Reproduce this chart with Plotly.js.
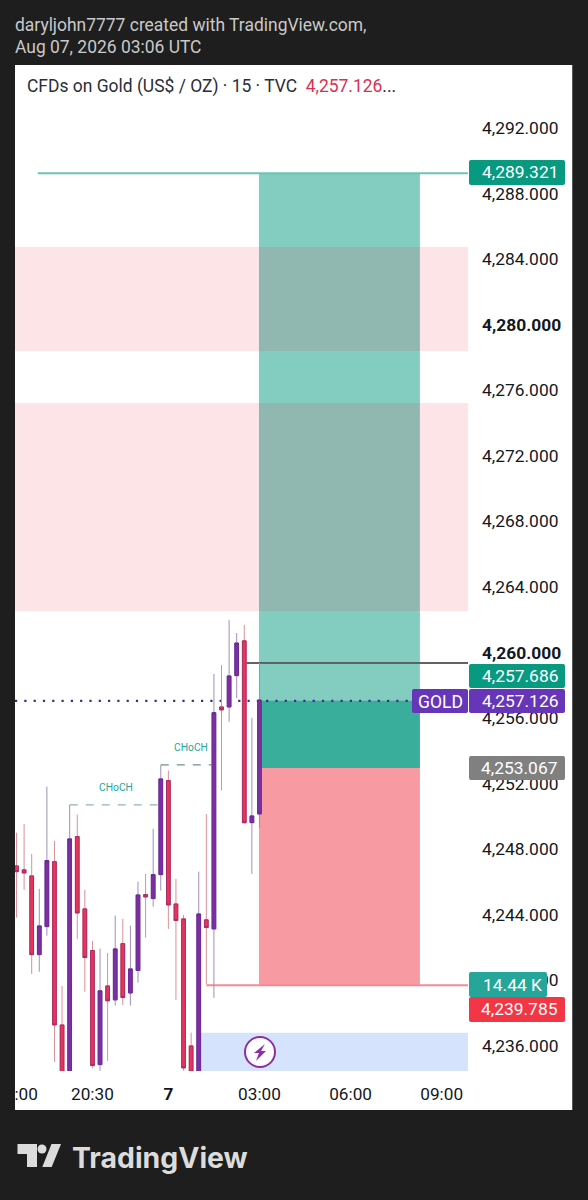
<!DOCTYPE html>
<html><head><meta charset="utf-8">
<script src="https://cdn.plot.ly/plotly-3.0.1.min.js"></script>
<style>html,body{margin:0;padding:0;background:#1e1e1e}</style></head>
<body><div id="chart" style="width:588px;height:1200px"></div>
<script>
const times=['2026-08-06 18:00','2026-08-06 18:15','2026-08-06 18:30','2026-08-06 18:45','2026-08-06 19:00','2026-08-06 19:15','2026-08-06 19:30','2026-08-06 19:45','2026-08-06 20:00','2026-08-06 20:15','2026-08-06 20:30','2026-08-06 20:45','2026-08-06 22:00','2026-08-06 22:15','2026-08-06 22:30','2026-08-06 22:45','2026-08-06 23:00','2026-08-06 23:15','2026-08-06 23:30','2026-08-06 23:45','2026-08-07 00:00','2026-08-07 00:15','2026-08-07 00:30','2026-08-07 00:45','2026-08-07 01:00','2026-08-07 01:15','2026-08-07 01:30','2026-08-07 01:45','2026-08-07 02:00','2026-08-07 02:15','2026-08-07 02:30','2026-08-07 02:45','2026-08-07 03:00'];
const opens=[4246.98,4246.74,4246.37,4241.57,4243.28,4247.24,4237.28,4233.32,4248.77,4244.36,4241.82,4234.86,4239.66,4238.81,4242.24,4239.23,4240.60,4245.23,4244.99,4246.45,4252.19,4244.66,4243.75,4236.00,4233.30,4243.69,4243.14,4256.68,4256.68,4258.59,4260.71,4249.62,4250.15];
const closes=[4246.63,4246.55,4241.57,4243.32,4247.31,4237.28,4233.32,4248.63,4244.11,4241.39,4234.80,4239.36,4238.75,4241.92,4238.95,4240.70,4245.21,4245.09,4246.45,4252.29,4244.60,4243.65,4234.66,4234.40,4244.05,4243.22,4256.33,4256.50,4258.57,4260.58,4249.62,4250.03,4257.10];
const highs=[4249.01,4249.54,4247.71,4245.58,4251.82,4248.51,4239.66,4250.70,4250.11,4245.52,4242.41,4241.94,4241.67,4243.95,4243.75,4243.34,4246.02,4246.49,4249.24,4253.14,4252.80,4246.19,4243.99,4236.81,4246.63,4250.15,4258.69,4259.24,4261.99,4261.19,4261.68,4256.01,4259.36];
const lows=[4243.83,4245.52,4240.39,4240.52,4242.73,4235.03,4232.71,4232.80,4242.53,4239.31,4234.66,4234.48,4235.09,4238.46,4238.50,4238.46,4239.86,4242.61,4244.50,4245.48,4243.14,4238.81,4234.48,4233.00,4233.00,4239.78,4238.93,4251.58,4255.78,4257.23,4249.54,4246.49,4249.32];
const priceTicks=[4292,4288,4284,4280,4276,4272,4268,4264,4260,4256,4252,4248,4244,4240,4236];
const boldPrices=[4280,4260];
const timeTickVals=['2026-08-06 18:00','2026-08-06 20:30','2026-08-07 00:00','2026-08-07 03:00','2026-08-07 06:00','2026-08-07 09:00'];
const timeTickText=['18:00','20:30','<b>7</b>','03:00','06:00','09:00'];
const xStart='2026-08-06 17:57',xEnd='2026-08-07 09:52';
const yBottom=4234.47,yTop=4295.84;
// labels as printed on the chart, and the levels
const tagTP='4,289.321',tagBid='4,257.686',tagLast='4,257.126',tagEntry='4,253.067',tagSL='4,239.785',tagVol='14.44 K',headerPrice='4,257.126';
const takeProfit=4289.24,stopLoss=4239.70,entry=4252.96,last=4257.05,pivot=4259.36;

const L=15,R=468,T=65,B=1071;
const px=x=>(x-L)/(R-L), py=y=>1-(y-T)/(B-T);
const P=(pts)=>'M'+pts.map(p=>px(p[0]).toFixed(5)+','+py(p[1]).toFixed(5)).join(' L')+' Z';
function pRect(x0,y0,x1,y1,color,layer){return {type:'rect',xref:'paper',yref:'paper',x0:px(x0),x1:px(x1),y0:py(y0),y1:py(y1),fillcolor:color,line:{width:0},layer:layer||'above'};}
function tag(x0,y0,x1,y1,color){const r=2;return {type:'path',xref:'paper',yref:'paper',layer:'above',fillcolor:color,line:{width:0},
 path:`M${px(x0+r)},${py(y0)} L${px(x1-r)},${py(y0)} Q${px(x1)},${py(y0)} ${px(x1)},${py(y0+r)} L${px(x1)},${py(y1-r)} Q${px(x1)},${py(y1)} ${px(x1-r)},${py(y1)} L${px(x0+r)},${py(y1)} Q${px(x0)},${py(y1)} ${px(x0)},${py(y1-r)} L${px(x0)},${py(y0+r)} Q${px(x0)},${py(y0)} ${px(x0+r)},${py(y0)} Z`};}
function dRect(x0,x1,y0,y1,color){return {type:'rect',xref:'x',yref:'y',x0,x1,y0,y1,fillcolor:color,line:{width:0},layer:'below'};}
function dLine(x0,x1,y0,y1,color,width,dash){return {type:'line',xref:'x',yref:'y',x0,x1,y0,y1,line:{color,width,dash:dash||'solid'},layer:'below'};}
const boxEnd='2026-08-07 08:17',box0='2026-08-07 02:59';
const shapes=[
 pRect(15,65,572.5,1110,'#ffffff','below'),
 dRect(box0,boxEnd,entry,takeProfit,'rgba(8,153,129,0.5)'),
 dRect(box0,boxEnd,stopLoss,entry,'rgba(242,54,69,0.5)'),
 dRect(box0,boxEnd,entry,last,'rgba(8,153,129,0.6)'),
 dRect(xStart,xEnd,4278.39,4284.74,'rgba(242,54,69,0.13)'),
 dRect(xStart,xEnd,4262.53,4275.22,'rgba(242,54,69,0.13)'),
 dRect('2026-08-07 01:00',xEnd,yBottom,4236.8,'#d6e3fc'),
 dLine('2026-08-06 18:42',xEnd,takeProfit,takeProfit,'#6cc4b4',2),
 dLine('2026-08-07 02:30',xEnd,pivot,pivot,'#5f6368',2),
 dLine('2026-08-07 01:15',xEnd,stopLoss,stopLoss,'#f58a96',2),
 dLine(xStart,xEnd,last,last,'#3f2a96',2.2,'2.2px,7.1px'),
 dLine('2026-08-06 19:45','2026-08-06 23:45',4250.70,4250.70,'#8fb5ad',1.2,'8px,8px'),
 dLine('2026-08-06 23:45','2026-08-07 01:30',4253.14,4253.14,'#6f938c',1.2,'8px,8px'),
 {type:'circle',xref:'paper',yref:'paper',x0:px(245),x1:px(275),y0:py(1037),y1:py(1067),fillcolor:'#ffffff',line:{color:'#8c2fa5',width:2},layer:'above'},
 {type:'path',xref:'paper',yref:'paper',layer:'above',fillcolor:'#8c2fa5',line:{width:0},path:P([[265,1044],[254,1053],[259,1053],[256,1061],[266,1051],[261,1051]])},
 tag(469,160,565,185,'#089981'),
 tag(469,664,565,688,'#089981'),
 tag(469,689,565,713,'#6736b8'),
 tag(412,689,468,713,'#6736b8'),
 tag(469,756,565,780,'#808080'),
 tag(469,972,547,997,'#26a69a'),
 tag(469,997,565,1022,'#f23645'),
 pRect(0,0,15,1200,'#1e1e1e'),
 pRect(572.5,0,588,1200,'#1e1e1e'),
 pRect(0,1110,588,1200,'#1e1e1e'),
 {type:'path',xref:'paper',yref:'paper',layer:'above',fillcolor:'#dcdcdc',line:{width:0},path:P([[17.5,1144],[37,1144],[37,1167],[27,1167],[27,1154],[17.5,1154]])},
 {type:'path',xref:'paper',yref:'paper',layer:'above',fillcolor:'#dcdcdc',line:{width:0},path:P([[51.5,1144],[61,1144],[51.7,1167],[42.3,1167]])},
 {type:'circle',xref:'paper',yref:'paper',layer:'above',fillcolor:'#dcdcdc',line:{width:0},x0:px(37.5),x1:px(46.5),y0:py(1144.5),y1:py(1153.5)}
];
const F='Roboto, sans-serif';
function txt(x,y,text,size,color,anchor,extra){return Object.assign({xref:'paper',yref:'paper',x:px(x),y:py(y),text,showarrow:false,xanchor:anchor||'left',yanchor:'middle',font:{family:F,size,color},borderpad:0,borderwidth:0,captureevents:false},extra||{});}
const fmt=v=>v.toLocaleString('en-US',{minimumFractionDigits:3,maximumFractionDigits:3});
const annotations=[
 txt(15,25,'daryljohn7777 created with TradingView.com,',17.45,'#c9c9c9'),
 txt(15,47.5,'Aug 07, 2026 03:06 UTC',17.45,'#c9c9c9'),
 txt(27,87,'CFDs on Gold (US$ / OZ) · 15 · TVC&nbsp;&nbsp;<span style="color:#d9304f">'+headerPrice+'</span>...',17.45,'#2a2e39'),
 txt(558,172,tagTP,17.4,'#ffffff','right'),
 txt(558,676,tagBid,17.4,'#ffffff','right'),
 txt(558,701,tagLast,17.4,'#ffffff','right'),
 txt(440,702,'GOLD',17.5,'#ffffff','center'),
 txt(558,768,tagEntry,17.4,'#ffffff','right'),
 txt(512,985,tagVol,17.4,'#ffffff','center'),
 txt(558,1009,tagSL,17.4,'#ffffff','right'),
 {xref:'x',yref:'y',x:'2026-08-06 22:17',y:4251.78,text:'CHoCH',showarrow:false,font:{family:F,size:10.3,color:'#26a69a'}},
 {xref:'x',yref:'y',x:'2026-08-07 00:45',y:4254.2,text:'CHoCH',showarrow:false,font:{family:F,size:10.3,color:'#26a69a'}},
 {xref:'paper',yref:'paper',x:px(70),y:py(1157),text:'<b>TradingView</b>',showarrow:false,xanchor:'left',yanchor:'middle',font:{family:'Inter, sans-serif',size:28.4,color:'#dcdcdc'}}
];
const bodyTop=opens.map((o,i)=>Math.max(o,closes[i])), bodyBot=opens.map((o,i)=>Math.min(o,closes[i]));
const W=15*60000*0.7;
const traces=[
 {type:'candlestick',x:times,open:opens,high:highs,low:lows,close:closes,width:W,hoverinfo:'skip',showlegend:false,
  increasing:{line:{color:'#a08fb8',width:1},fillcolor:'#7b2fa0'},decreasing:{line:{color:'#dc8f98',width:1},fillcolor:'#e8335a'}},
 {type:'candlestick',x:times,open:opens,high:bodyTop,low:bodyBot,close:closes,width:W,hoverinfo:'skip',showlegend:false,
  increasing:{line:{color:'#6d2a98',width:1},fillcolor:'#7b2fa0'},decreasing:{line:{color:'#a92c66',width:1},fillcolor:'#e8335a'}}
];
const layout={width:588,height:1200,margin:{l:L,r:588-R,t:T,b:1200-B},paper_bgcolor:'#1e1e1e',plot_bgcolor:'rgba(0,0,0,0)',showlegend:false,hovermode:false,
 xaxis:{type:'date',range:[xStart,xEnd],rangeslider:{visible:false},rangebreaks:[{pattern:'hour',bounds:[21,22]}],tickmode:'array',tickvals:timeTickVals,ticktext:timeTickText,ticks:'',showgrid:false,zeroline:false,showline:false,tickangle:0,ticklabelstandoff:11,ticklabeloverflow:'allow',tickfont:{family:F,size:17.2,color:'#131722'}},
 yaxis:{side:'right',range:[yBottom,yTop],tickmode:'array',tickvals:priceTicks,ticktext:priceTicks.map(v=>boldPrices.includes(v)?'<b>'+fmt(v)+'</b>':fmt(v)),ticks:'',showgrid:false,zeroline:false,showline:false,ticklabelstandoff:13,tickfont:{family:F,size:17.4,color:'#131722'}},
 shapes,annotations};
Plotly.newPlot('chart',traces,layout,{staticPlot:true,displayModeBar:false});
</script></body></html>
